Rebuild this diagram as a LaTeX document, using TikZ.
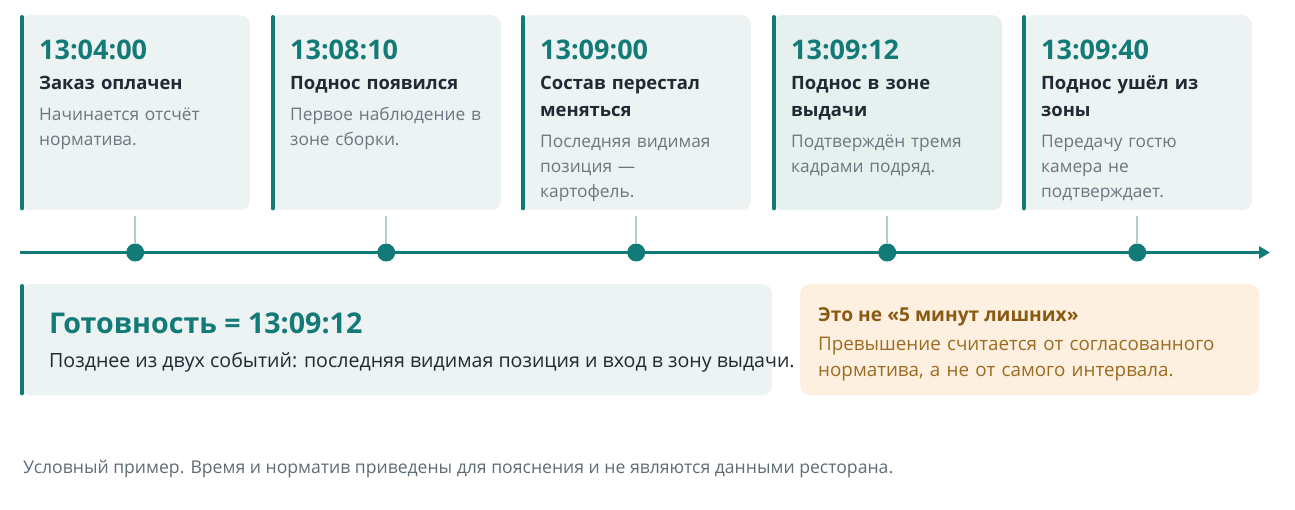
\documentclass[tikz,border=0pt]{standalone}
\usepackage{fontspec}
\setmainfont{Open Sans}
\usetikzlibrary{arrows.meta,calc}
\definecolor{tealc}{HTML}{127A77}
\definecolor{cardbg}{HTML}{EDF2F2}
\definecolor{cardhi}{HTML}{E5F0EF}
\definecolor{darkt}{HTML}{1F2A33}
\definecolor{greyt}{HTML}{6B7780}
\definecolor{tickc}{HTML}{B9CACD}
\definecolor{warmbg}{HTML}{FDF0E1}
\definecolor{brownh}{HTML}{8A5A10}
\definecolor{brownt}{HTML}{9C6B20}
\definecolor{footc}{HTML}{5F6B73}
\tikzset{
  card/.style={fill=cardbg, rounded corners=10pt, minimum width=230pt, minimum height=195pt, anchor=north west, inner sep=0pt},
  bar/.style={draw=tealc, line width=4pt, line cap=round},
  timet/.style={anchor=base west, inner sep=0pt, text=tealc, font=\fontsize{27}{28}\selectfont\bfseries},
  titlet/.style={anchor=base west, inner sep=0pt, text=darkt, align=left, text width=220pt, font=\fontsize{18.4}{27}\selectfont\bfseries},
  desct/.style={anchor=base west, inner sep=0pt, text=greyt, align=left, text width=220pt, font=\fontsize{17.3}{25}\selectfont},
  dot/.style={circle, fill=tealc, minimum size=18pt, inner sep=0pt},
  tick/.style={draw=tickc, line width=2pt},
  axis/.style={draw=tealc, line width=3pt, -{Triangle[length=11pt,width=12pt]}},
}
\begin{document}
\begin{tikzpicture}[x=1pt,y=-1pt]
\useasboundingbox (0,0) rectangle (1295,509);
% cards
\node[card] (c1) at (20,15) {};
\node[card] (c2) at (271,15) {};
\node[card] (c3) at (521,15) {};
\node[card, fill=cardhi] (c4) at (772,15) {};
\node[card] (c5) at (1022,15) {};
\foreach \c in {c1,c2,c3,c4,c5}{
  \draw[bar] ([xshift=2pt,yshift=-2pt]\c.north west) -- ([xshift=2pt,yshift=2pt]\c.south west);
}
% card texts
\node[timet] (t1) at (39,59) {13:04:00};
\node[titlet] (h1) at (39,89) {Заказ оплачен};
\node[desct] (p1) at (39,120) {Начинается отсчёт\\норматива.};
\node[timet] (t2) at (290,59) {13:08:10};
\node[titlet] (h2) at (290,89) {Поднос появился};
\node[desct] (p2) at (290,120) {Первое наблюдение в\\зоне сборки.};
\node[timet] (t3) at (540,59) {13:09:00};
\node[titlet] (h3) at (540,89) {Состав перестал\\меняться};
\node[desct] (p3) at (540,147) {Последняя видимая\\позиция —\\картофель.};
\node[timet] (t4) at (791,59) {13:09:12};
\node[titlet] (h4) at (791,89) {Поднос в зоне\\выдачи};
\node[desct] (p4) at (791,147) {Подтверждён тремя\\кадрами подряд.};
\node[timet] (t5) at (1041,59) {13:09:40};
\node[titlet] (h5) at (1041,89) {Поднос ушёл из\\зоны};
\node[desct] (p5) at (1041,147) {Передачу гостю\\камера не\\подтверждает.};
% timeline
\coordinate (a0) at (20,252.5);
\coordinate (a1) at (1270,252.5);
\draw[axis] (a0) -- (a1);
\foreach \i in {1,...,5}{
  \node[dot] (d\i) at (c\i.south |- a0) {};
}
\foreach \i in {1,...,5}{
  \draw[tick] ([yshift=-6pt]c\i.south) -- (d\i.north);
}
% bottom boxes
\node[fill=cardbg, rounded corners=10pt, minimum width=752pt, minimum height=111pt, anchor=north west, inner sep=0pt] (g) at (20,284) {};
\draw[bar] ([xshift=2pt,yshift=-2pt]g.north west) -- ([xshift=2pt,yshift=2pt]g.south west);
\node[anchor=base west, inner sep=0pt, text=tealc, font=\fontsize{28.6}{30}\selectfont\bfseries] (gt) at (49,333) {Готовность = 13:09:12};
\node[anchor=base west, inner sep=0pt, text=darkt, font=\fontsize{19.6}{20}\selectfont] (gb) at (49,367) {Позднее из двух событий: последняя видимая позиция и вход в зону выдачи.};
\node[fill=warmbg, rounded corners=10pt, minimum width=459pt, minimum height=111pt, anchor=north west, inner sep=0pt] (w) at (800,284) {};
\node[anchor=base west, inner sep=0pt, text=brownh, font=\fontsize{19.2}{20}\selectfont\bfseries] (wt) at (818,321) {Это не «5 минут лишних»};
\node[anchor=base west, inner sep=0pt, text=brownt, align=left, text width=440pt, font=\fontsize{18.8}{26}\selectfont] (wb) at (818,350) {Превышение считается от согласованного\\норматива, а не от самого интервала.};
% footer
\node[anchor=base west, inner sep=0pt, text=footc, font=\fontsize{17.6}{18}\selectfont] (f) at (23,473) {Условный пример. Время и норматив приведены для пояснения и не являются данными ресторана.};
\end{tikzpicture}
\end{document}
